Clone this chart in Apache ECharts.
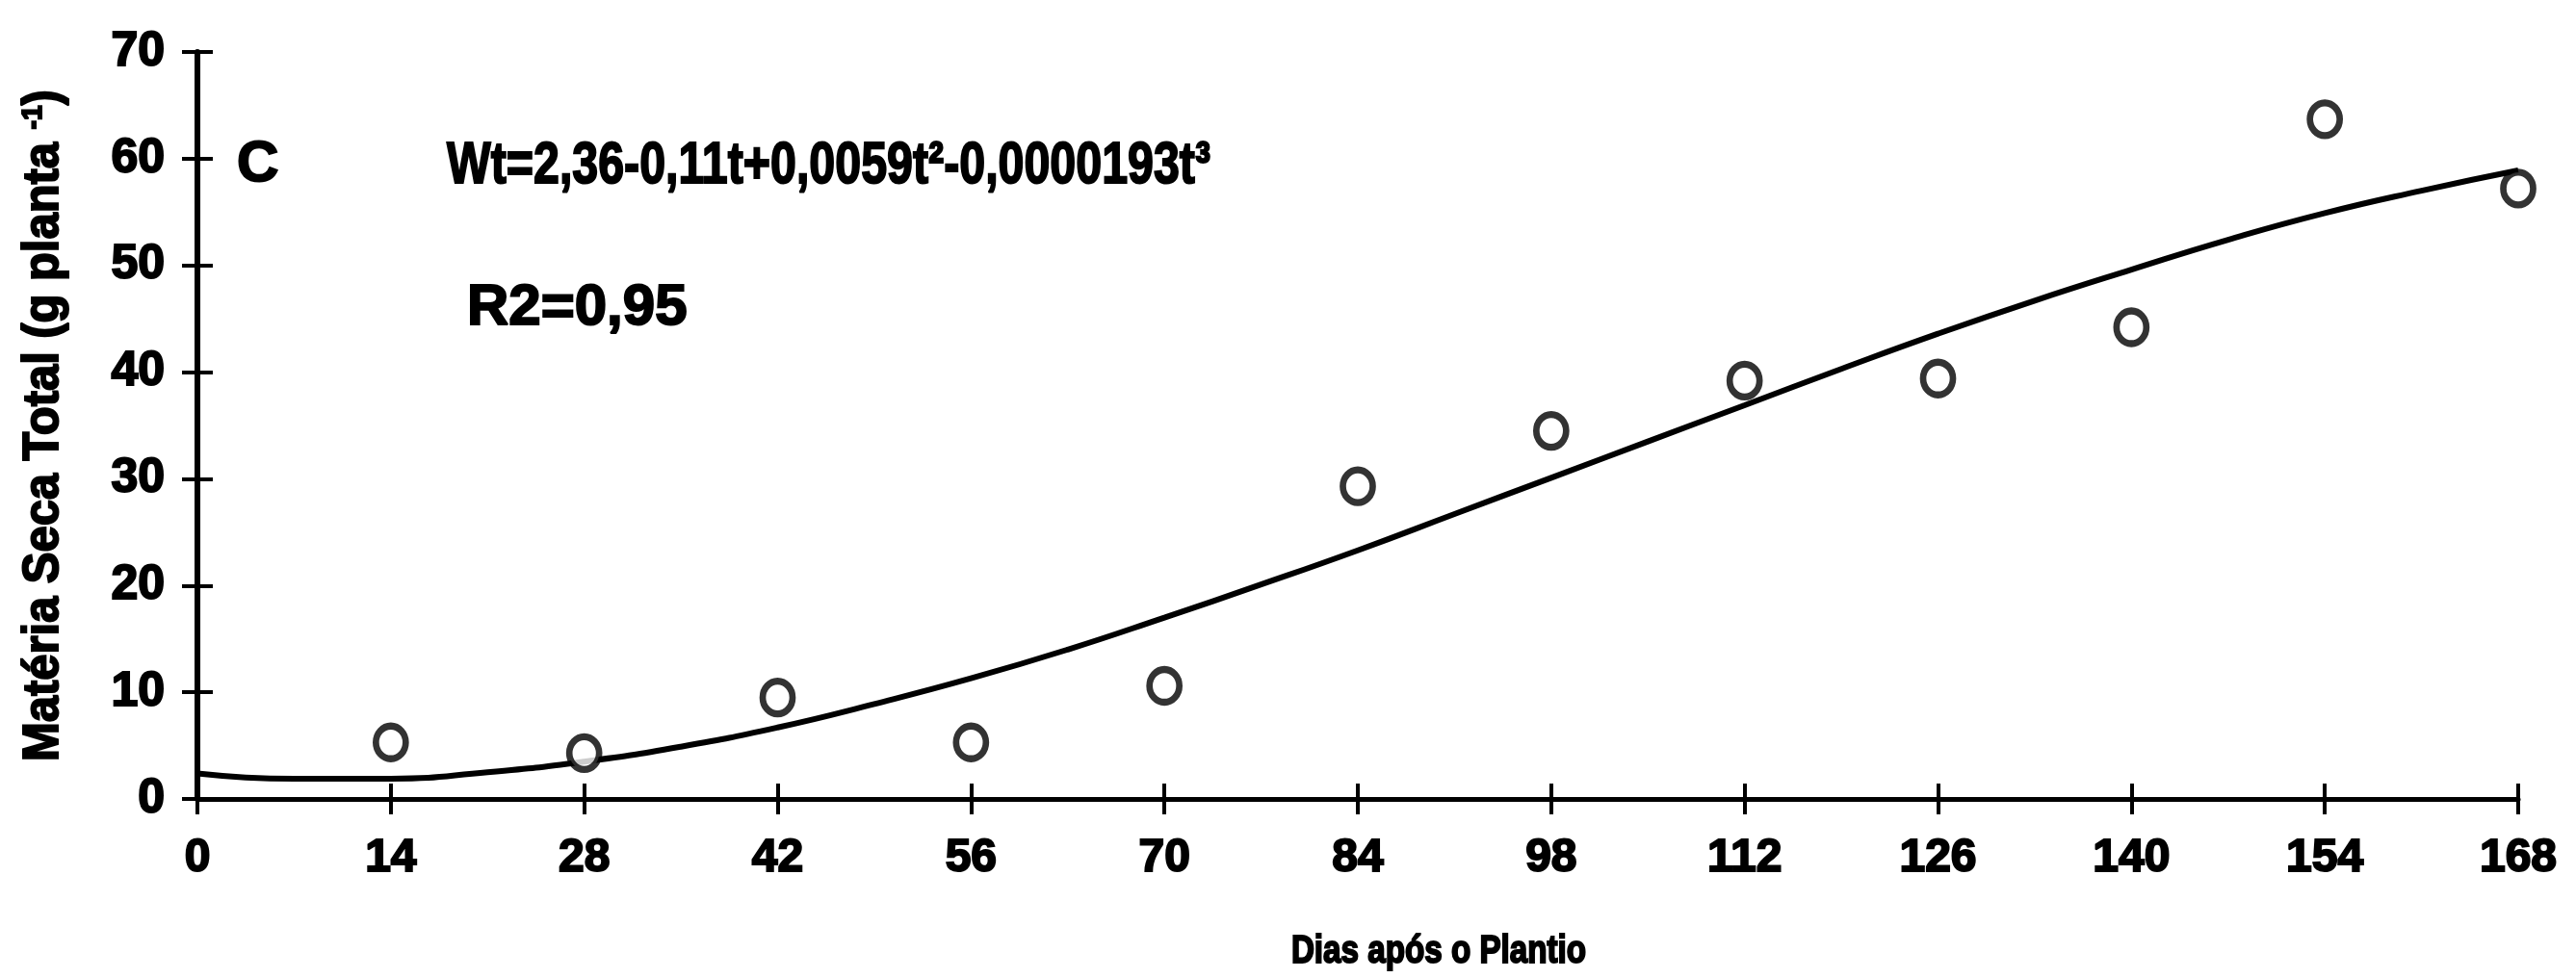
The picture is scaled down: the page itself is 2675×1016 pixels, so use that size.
<!DOCTYPE html>
<html>
<head>
<meta charset="utf-8">
<script src="https://cdn.jsdelivr.net/npm/echarts@6/dist/echarts.min.js"></script>
<style>
  html, body { margin: 0; padding: 0; background: #fff; }
  #chart { width: 2675px; height: 1016px; }
</style>
</head>
<body>
<div id="chart"></div>
<script>
// Total dry matter per plant against days after planting
const dayTicks = [0, 14, 28, 42, 56, 70, 84, 98, 112, 126, 140, 154, 168];
const obsDays = [14, 28, 42, 56, 70, 84, 98, 112, 126, 140, 154, 168];
const obsDryMatter = [5.3, 4.3, 9.5, 5.3, 10.6, 29.3, 34.5, 39.2, 39.4, 44.2, 63.7, 57.2];
// fitted cubic curve, sampled every 7 days
const fitDays = [0, 7, 14, 21, 28, 35, 42, 49, 56, 63, 70, 77, 84, 91, 98, 105, 112, 119, 126, 133, 140, 147, 154, 161, 168];
const fitDryMatter = [2.4, 1.9, 1.9, 2.5, 3.5, 4.9, 6.7, 8.9, 11.3, 14.0, 17.0, 20.1, 23.3, 26.7, 30.1, 33.5, 36.9, 40.3, 43.6, 46.7, 49.6, 52.4, 54.9, 57.0, 58.9];

const panelLetter = 'C';
const equationText = 'Wt=2,36-0,11t+0,0059t\u00B2-0,0000193t\u00B3';
const r2Text = 'R2=0,95';
const xTitle = 'Dias após o Plantio';
const yTitle = 'Matéria Seca Total (g planta {sup|-1})';

const FONT = "'Liberation Sans', Arial, sans-serif";
// heavy print look: a thin outline in the text colour thickens the glyphs
const HEAVY_LABEL = { textBorderColor: '#000', textBorderWidth: 2 };   // axis labels
const HEAVY_TEXT = { stroke: '#000', lineWidth: 2 };                   // graphic texts

const chart = echarts.init(document.getElementById('chart'), null, { renderer: 'canvas' });

const gridPos = { left: 205, right: 60, top: 54, bottom: 186 };

const option = {
  backgroundColor: '#ffffff',
  animation: false,
  grid: Object.assign({ containLabel: false }, gridPos),
  xAxis: [
    {
      type: 'value', min: 0, max: 168, interval: 14,
      axisLine: { show: true, onZero: false, lineStyle: { color: '#000', width: 5 } },
      axisTick: { show: true, length: 16, lineStyle: { color: '#000', width: 4 } },
      axisLabel: Object.assign({
        color: '#000', fontFamily: FONT, fontWeight: 'bold', fontSize: 48, margin: 38,
        formatter: v => (dayTicks.indexOf(v) >= 0 ? String(v) : '')
      }, HEAVY_LABEL),
      splitLine: { show: false }
    },
    {
      // inner half of the crossing ticks
      type: 'value', min: 0, max: 168, interval: 14, position: 'bottom',
      axisLine: { show: false, onZero: false },
      axisTick: { show: true, inside: true, length: 16, lineStyle: { color: '#000', width: 4 } },
      axisLabel: { show: false },
      splitLine: { show: false }
    }
  ],
  yAxis: [
    {
      type: 'value', min: 0, max: 70, interval: 10,
      axisLine: { show: true, onZero: false, lineStyle: { color: '#000', width: 6 } },
      axisTick: { show: true, length: 16, lineStyle: { color: '#000', width: 4 } },
      axisLabel: Object.assign({ color: '#000', fontFamily: FONT, fontWeight: 'bold', fontSize: 50, margin: 34 }, HEAVY_LABEL),
      splitLine: { show: false }
    },
    {
      type: 'value', min: 0, max: 70, interval: 10, position: 'left',
      axisLine: { show: false, onZero: false },
      axisTick: { show: true, inside: true, length: 16, lineStyle: { color: '#000', width: 4 } },
      axisLabel: { show: false },
      splitLine: { show: false }
    }
  ],
  series: [
    {
      name: 'ajuste',
      type: 'line',
      xAxisIndex: 0, yAxisIndex: 0,
      data: fitDays.map((d, i) => [d, fitDryMatter[i]]),
      smooth: true,
      showSymbol: false,
      lineStyle: { color: '#000', width: 6 },
      z: 3
    },
    {
      name: 'observado',
      type: 'scatter',
      xAxisIndex: 0, yAxisIndex: 0,
      data: obsDays.map((d, i) => [d, obsDryMatter[i]]),
      symbol: 'circle',
      symbolSize: [31, 34],
      itemStyle: { color: '#fff', borderColor: '#000', borderWidth: 7 },
      z: 4
    }
  ],
  graphic: [
    {
      type: 'text', x: 246, y: 171,
      style: Object.assign({ text: panelLetter, fill: '#000', font: 'bold 60px ' + FONT, textVerticalAlign: 'middle' }, HEAVY_TEXT)
    },
    {
      type: 'text', x: 464, y: 173, scaleX: 0.78,
      style: Object.assign({ text: equationText, fill: '#000', font: 'bold 62px ' + FONT, textAlign: 'left', textVerticalAlign: 'middle' }, HEAVY_TEXT)
    },
    {
      type: 'text', x: 485, y: 320,
      style: Object.assign({ text: r2Text, fill: '#000', font: 'bold 60px ' + FONT, textAlign: 'left', textVerticalAlign: 'middle' }, HEAVY_TEXT)
    },
    {
      // x axis title
      type: 'text', x: 1494, y: 989, scaleX: 0.83,
      style: Object.assign({ text: xTitle, fill: '#000', font: 'bold 40px ' + FONT, textAlign: 'center', textVerticalAlign: 'middle' }, HEAVY_TEXT)
    },
    {
      // y axis title, reading bottom to top
      type: 'text', x: 46, y: 442, rotation: Math.PI / 2, scaleX: 0.94,
      style: Object.assign({
        text: yTitle, fill: '#000', font: 'bold 52px ' + FONT,
        textAlign: 'center', textVerticalAlign: 'middle',
        rich: {
          sup: Object.assign({ fill: '#000', font: 'bold 30px ' + FONT, verticalAlign: 'top', padding: [0, 0, 18, 0] }, HEAVY_TEXT)
        }
      }, HEAVY_TEXT)
    }
  ]
};

chart.setOption(option);
</script>
</body>
</html>
